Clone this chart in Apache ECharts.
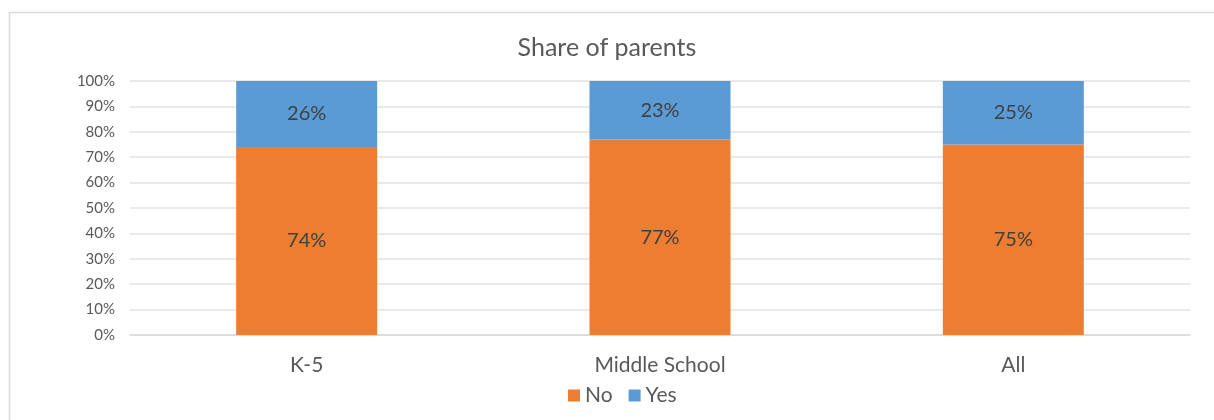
<!DOCTYPE html>
<html>
<head>
<meta charset="utf-8">
<script src="https://cdn.jsdelivr.net/npm/echarts@6/dist/echarts.min.js"></script>
<style>
  html, body { margin: 0; padding: 0; background: #fff; }
  #myChart { width: 1214px; height: 420px; }
</style>
</head>
<body>
<div id="myChart"></div>
<script>
// 数据
let categories = ['K-5', 'Middle School', 'All'];
let noValues = [74, 77, 75];
let yesValues = [26, 23, 25];

let font = 'Lato, "Open Sans", sans-serif';
let chart = echarts.init(document.getElementById('myChart'));

let option = {
  animation: false,
  textStyle: { fontFamily: font },
  color: ['#ed7d31', '#5b9bd5'],
  // 外框
  graphic: [{
    type: 'rect',
    shape: { x: 9.5, y: 12.5, width: 1230, height: 430 },
    style: { fill: 'none', stroke: '#d9d9d9', lineWidth: 1.5 },
    silent: true
  }],
  title: {
    text: 'Share of parents',
    left: 'center',
    top: 30,
    textStyle: { fontFamily: font, fontSize: 25, fontWeight: 'normal', color: '#595959' }
  },
  legend: {
    top: 380,
    left: 563,
    itemWidth: 12,
    itemHeight: 12,
    itemGap: 16,
    icon: 'rect',
    textStyle: { fontFamily: font, fontSize: 21, color: '#595959' },
    data: ['No', 'Yes']
  },
  grid: { left: 130, right: 24, top: 81, bottom: 85 },
  xAxis: {
    type: 'category',
    data: categories,
    axisTick: { show: false },
    axisLine: { lineStyle: { color: '#d9d9d9', width: 1.5 } },
    axisLabel: { fontFamily: font, fontSize: 21, color: '#595959', margin: 20 }
  },
  yAxis: {
    type: 'value',
    min: 0,
    max: 100,
    interval: 10,
    axisLine: { show: false },
    axisTick: { show: false },
    splitLine: { lineStyle: { color: '#e3e3e3', width: 1.5 } },
    axisLabel: { fontFamily: font, fontSize: 15, color: '#595959', margin: 15, formatter: '{value}%' }
  },
  series: [{
    name: 'No',
    type: 'bar',
    stack: 'total',
    barWidth: 141,
    data: noValues,
    label: { show: true, position: 'inside', formatter: '{c}%', fontFamily: font, fontSize: 20, color: '#404040' }
  }, {
    name: 'Yes',
    type: 'bar',
    stack: 'total',
    barWidth: 141,
    data: yesValues,
    label: { show: true, position: 'inside', formatter: '{c}%', fontFamily: font, fontSize: 20, color: '#404040' }
  }]
};

chart.setOption(option);
</script>
</body>
</html>
